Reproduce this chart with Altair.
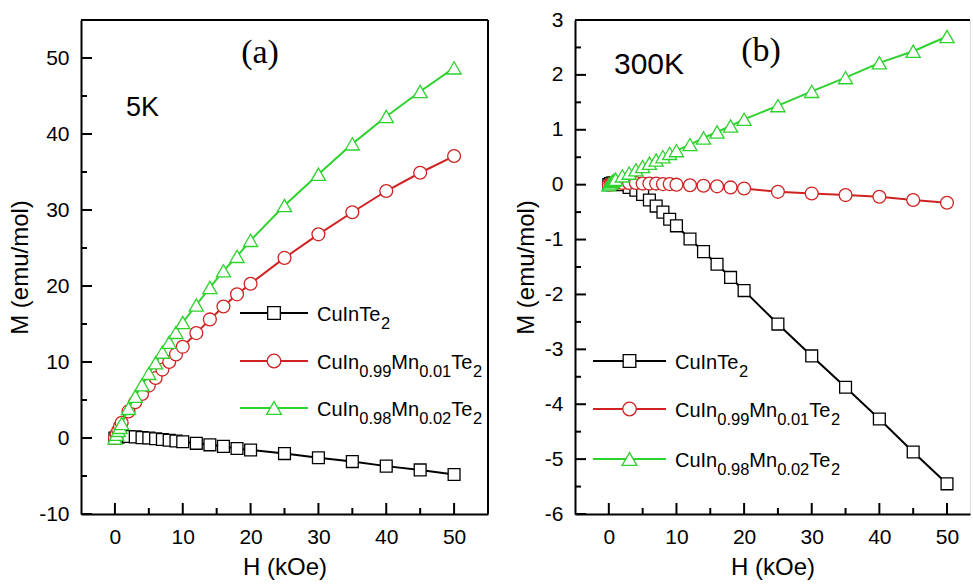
import altair as alt
import pandas as pd

# ---------------- data ----------------
H = [0, 0.25, 0.5, 0.75, 1, 2, 3, 4, 5, 6, 7, 8, 9, 10, 12, 14, 16, 18, 20, 25, 30, 35, 40, 45, 50]

# 5 K
m5_cuinte2 = [0, 0.1, 0.15, 0.2, 0.2, 0.2, 0.15, 0.05, 0.0, -0.1, -0.2, -0.3, -0.4, -0.5, -0.7, -0.9, -1.1, -1.38, -1.58, -2.05, -2.6, -3.1, -3.7, -4.2, -4.8]
m5_mn001 = [0, 0.5, 1.0, 1.5, 2.0, 3.5, 4.7, 5.8, 6.9, 7.9, 9.0, 10.0, 11.0, 12.0, 13.8, 15.6, 17.3, 18.9, 20.3, 23.7, 26.8, 29.7, 32.5, 34.9, 37.1]
m5_mn002 = [0, 0.5, 1.0, 1.4, 1.9, 3.9, 5.5, 7.0, 8.5, 9.9, 11.3, 12.6, 13.9, 15.2, 17.5, 19.8, 22.0, 23.9, 26.0, 30.6, 34.7, 38.7, 42.3, 45.6, 48.7]

# 300 K
m300_cuinte2 = [0, 0.02, 0.03, 0.03, 0.03, 0.0, -0.05, -0.1, -0.18, -0.28, -0.39, -0.5, -0.63, -0.75, -0.99, -1.22, -1.45, -1.69, -1.93, -2.54, -3.12, -3.69, -4.27, -4.87, -5.45]
m300_mn001 = [0, 0.01, 0.02, 0.02, 0.03, 0.03, 0.03, 0.03, 0.02, 0.02, 0.02, 0.01, 0.01, 0.0, -0.01, -0.02, -0.03, -0.05, -0.07, -0.13, -0.16, -0.19, -0.22, -0.28, -0.33]
m300_mn002 = [0, 0.03, 0.06, 0.08, 0.1, 0.16, 0.21, 0.27, 0.33, 0.39, 0.45, 0.51, 0.57, 0.62, 0.73, 0.85, 0.96, 1.07, 1.19, 1.44, 1.70, 1.95, 2.22, 2.43, 2.70]

series_names = ["CuInTe2", "CuIn0.99Mn0.01Te2", "CuIn0.98Mn0.02Te2"]
series_colors = ["#000000", "#d02222", "#2ed22e"]
series_shapes = ["square", "circle", "triangle-up"]
series_sizes = [140, 165, 200]

# legend labels: (text, is_subscript)
legend_labels = [
    [("CuInTe", 0), ("2", 1)],
    [("CuIn", 0), ("0.99", 1), ("Mn", 0), ("0.01", 1), ("Te", 0), ("2", 1)],
    [("CuIn", 0), ("0.98", 1), ("Mn", 0), ("0.02", 1), ("Te", 0), ("2", 1)],
]

x_major = [0, 10, 20, 30, 40, 50]
x_minor = [5, 15, 25, 35, 45]
y5_major = [-10, 0, 10, 20, 30, 40, 50]
y5_minor = [-5, 5, 15, 25, 35, 45]
y300_major = [-6, -5, -4, -3, -2, -1, 0, 1, 2, 3]
y300_minor = [-5.5, -4.5, -3.5, -2.5, -1.5, -0.5, 0.5, 1.5, 2.5]

FONT = "Liberation Sans"
SERIF = "Liberation Serif"

ARIAL_W = {"C": 722, "u": 556, "I": 278, "n": 556, "T": 611, "e": 556, "M": 833, ".": 278}
for d in "0123456789":
    ARIAL_W[d] = 556
KERN = {"Te": -74}


def text_width(s, size):
    w = sum(ARIAL_W.get(c, 556) for c in s)
    for a, b in zip(s, s[1:]):
        w += KERN.get(a + b, 0)
    return w * size / 1000.0


def legend_table(x_text, rows_y, main=20, sub=16.5):
    recs = []
    for label, ry in zip(legend_labels, rows_y):
        x = x_text
        for txt, is_sub in label:
            fs = sub if is_sub else main
            recs.append({"t": txt, "px": x, "py": ry + (16 if is_sub else 7.5), "fs": fs})
            x += text_width(txt, fs)
    return pd.DataFrame(recs)


ONE = pd.DataFrame({"k": [0]})


def panel(values, xdom, ydom, width, height, ymaj, ymin, leg_x0, leg_x1, leg_rows,
          temp_text, temp_x, temp_y, temp_size, letter, letter_x, letter_y, right_border):
    xs = alt.Scale(domain=xdom, nice=False, zero=False)
    ys = alt.Scale(domain=ydom, nice=False, zero=False)
    xaxis = alt.Axis(values=x_major, ticks=False, grid=False, domainColor="black", domainWidth=2,
                     labelFontSize=21, labelFont=FONT, labelColor="black", labelPadding=12,
                     title="H (kOe)", titleFont=FONT, titleFontSize=24, titleFontWeight="normal",
                     titleColor="black", titlePadding=8, labelExpr="'' + datum.value")
    yaxis = alt.Axis(values=ymaj, ticks=False, grid=False, domainColor="black", domainWidth=2,
                     labelFontSize=21, labelFont=FONT, labelColor="black", labelPadding=12,
                     title="M (emu/mol)", titleFont=FONT, titleFontSize=24, titleFontWeight="normal",
                     titleColor="black", titlePadding=6, labelExpr="'' + datum.value")

    layers = []
    first = True
    for i in range(3):
        d = pd.DataFrame({"H": H, "M": values[i]})
        c = alt.Chart(d)
        if first:
            xe = alt.X("H:Q", scale=xs, axis=xaxis)
            ye = alt.Y("M:Q", scale=ys, axis=yaxis)
            first = False
        else:
            xe = alt.X("H:Q", scale=xs)
            ye = alt.Y("M:Q", scale=ys)
        layers.append(c.mark_line(color=series_colors[i], strokeWidth=2).encode(x=xe, y=ye))
        layers.append(c.mark_point(shape=series_shapes[i], size=series_sizes[i], filled=True,
                                   fill="white", stroke=series_colors[i], strokeWidth=1.3,
                                   opacity=1).encode(x=xe, y=ye))

    # inward ticks
    tx_maj = pd.DataFrame({"v": x_major})
    tx_min = pd.DataFrame({"v": x_minor})
    ty_maj = pd.DataFrame({"v": ymaj})
    ty_min = pd.DataFrame({"v": ymin})
    layers.append(alt.Chart(tx_maj).mark_rule(color="black", strokeWidth=2).encode(
        x=alt.X("v:Q", scale=xs), y=alt.value(height), y2=alt.value(height - 11)))
    layers.append(alt.Chart(tx_min).mark_rule(color="black", strokeWidth=2).encode(
        x=alt.X("v:Q", scale=xs), y=alt.value(height), y2=alt.value(height - 6)))
    layers.append(alt.Chart(ty_maj).mark_rule(color="black", strokeWidth=2).encode(
        y=alt.Y("v:Q", scale=ys), x=alt.value(0), x2=alt.value(11)))
    layers.append(alt.Chart(ty_min).mark_rule(color="black", strokeWidth=2).encode(
        y=alt.Y("v:Q", scale=ys), x=alt.value(0), x2=alt.value(6)))

    # frame
    layers.append(alt.Chart(ONE).mark_rule(color="black", strokeWidth=2).encode(
        x=alt.value(0), x2=alt.value(width), y=alt.value(0)))
    if right_border:
        layers.append(alt.Chart(ONE).mark_rule(color="black", strokeWidth=2).encode(
            x=alt.value(width), y=alt.value(0), y2=alt.value(height)))

    # legend
    for i in range(3):
        layers.append(alt.Chart(ONE).mark_rule(color=series_colors[i], strokeWidth=2).encode(
            x=alt.value(leg_x0), x2=alt.value(leg_x1), y=alt.value(leg_rows[i])))
        layers.append(alt.Chart(ONE).mark_point(shape=series_shapes[i], size=series_sizes[i] + 20,
                                                filled=True, fill="white", stroke=series_colors[i],
                                                strokeWidth=1.3, opacity=1).encode(
            x=alt.value((leg_x0 + leg_x1) / 2), y=alt.value(leg_rows[i])))
    lt = legend_table(leg_x1 + 9, leg_rows)
    layers.append(alt.Chart(lt).mark_text(font=FONT, align="left", baseline="alphabetic", color="black").encode(
        x=alt.X("px:Q", scale=None, axis=None), y=alt.Y("py:Q", scale=None, axis=None),
        size=alt.Size("fs:Q", scale=None, legend=None), text="t:N"))

    # annotations
    layers.append(alt.Chart(ONE).mark_text(text=temp_text, font=FONT, fontSize=temp_size, align="left",
                                           baseline="alphabetic", color="black").encode(
        x=alt.value(temp_x), y=alt.value(temp_y)))
    layers.append(alt.Chart(ONE).mark_text(text=letter, font=SERIF, fontSize=34, align="center",
                                           baseline="alphabetic", color="black").encode(
        x=alt.value(letter_x), y=alt.value(letter_y)))

    return alt.layer(*layers).properties(width=width, height=height)


left = panel([m5_cuinte2, m5_mn001, m5_mn002], [-5, 55], [-10, 55], 407, 494,
             y5_major, y5_minor, 159, 227, [293, 341, 388],
             "5K", 45, 96, 27, "(a)", 179, 43, True)
right = panel([m300_cuinte2, m300_mn001, m300_mn002], [-5, 53.4], [-6, 3], 395, 494,
              y300_major, y300_minor, 18, 91, [341, 389, 439],
              "300K", 39, 54, 30, "(b)", 186, 41, False)

chart = alt.hconcat(left, right, spacing=87, bounds="flush").properties(
    padding={"left": 8, "top": 8, "right": 0, "bottom": 0}
).configure_view(strokeWidth=0).configure(background="white")

chart.save("out.html", embed_options={"renderer": "svg", "actions": False})
